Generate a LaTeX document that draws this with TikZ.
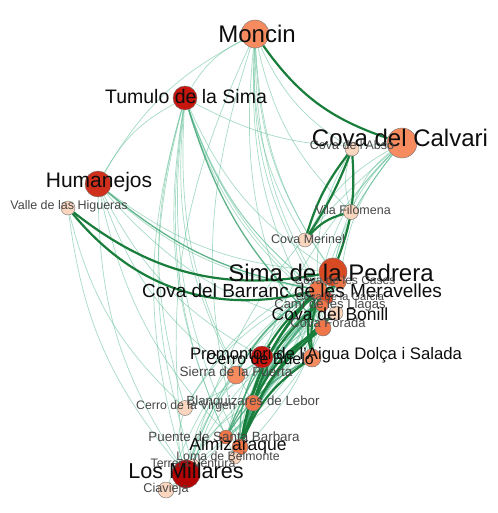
\documentclass[tikz,border=0pt]{standalone}
\usepackage{fontspec}
\setmainfont{Liberation Sans}
\usetikzlibrary{positioning}
\pgfdeclarelayer{paper}
\pgfdeclarelayer{edges}
\pgfsetlayers{paper,edges,main}
\definecolor{peach}{RGB}{250,214,190}
\definecolor{sorange}{RGB}{245,139,94}
\definecolor{dorange}{RGB}{238,118,72}
\definecolor{sred}{RGB}{200,22,14}
\definecolor{hred}{RGB}{208,47,27}
\definecolor{mred}{RGB}{180,3,3}
\definecolor{pred}{RGB}{216,74,36}
\definecolor{edgelight}{RGB}{95,190,150}
\definecolor{edgemid}{RGB}{55,160,110}
\definecolor{edgedark}{RGB}{25,125,60}
\tikzset{
  site/.style={circle, draw=black!55, line width=.4pt, inner sep=0pt},
  lab/.style={font=\fontsize{#1}{#1}\selectfont, inner sep=0pt, text=black!95},
  sublab/.style={font=\fontsize{#1}{#1}\selectfont, inner sep=0pt, text=black!72},
  ln/.style={draw=edgelight, line width=.7pt, opacity=.55},
  md/.style={draw=edgemid, line width=1.3pt, opacity=.8},
  lk/.style={draw=edgedark, line width=2.2pt},
}
\begin{document}
\begin{tikzpicture}[x=1pt,y=-1pt]
  \begin{pgfonlayer}{paper}
    \fill[white] (0,0) rectangle (497,513);
  \end{pgfonlayer}
  \useasboundingbox (0,0) rectangle (497,513);
  % sites
  \node[site, fill=sorange, minimum size=28] (mon) at (255,34) {};
  \node[site, fill=sred, minimum size=24] (tum) at (185,98) {};
  \node[site, fill=sorange, minimum size=30] (cal) at (402,143) {};
  \node[site, fill=peach, minimum size=14] (abs) at (352,149) {};
  \node[site, fill=peach, minimum size=15] (fil) at (351,212) {};
  \node[site, fill=peach, minimum size=14] (mer) at (305,240) {};
  \node[site, fill=hred, minimum size=26] (hum) at (98,184) {};
  \node[site, fill=peach, minimum size=14] (hig) at (68,208) {};
  \node[site, fill=dorange, minimum size=18] (bar) at (318,290) {};
  \node[site, fill=pred, minimum size=28] (ped) at (333,272) {};
  \node[site, fill=dorange, minimum size=12] (cas) at (340,283) {};
  \node[site, fill=pred, minimum size=12] (gar) at (327,298) {};
  \node[site, fill=dorange, minimum size=12] (lla) at (322,306) {};
  \node[site, fill=peach, minimum size=14] (bon) at (336,313) {};
  \node[site, fill=dorange, minimum size=16] (for) at (323,328) {};
  \node[site, fill=sorange, minimum size=18] (pro) at (312,358) {};
  \node[site, fill=sred, minimum size=22] (cbu) at (262,357) {};
  \node[site, fill=sorange, minimum size=18] (sie) at (236,375) {};
  \node[site, fill=peach, minimum size=15] (vir) at (185,408) {};
  \node[site, fill=dorange, minimum size=16] (bla) at (253,403) {};
  \node[site, fill=dorange, minimum size=14] (pue) at (226,437) {};
  \node[site, fill=dorange, minimum size=16] (alm) at (240,447) {};
  \node[site, fill=peach, minimum size=12] (lom) at (235,458) {};
  \node[site, fill=peach, minimum size=12] (ter) at (193,465) {};
  \node[site, fill=mred, minimum size=28] (mil) at (186,474) {};
  \node[site, fill=peach, minimum size=16] (cia) at (166,490) {};
  % labels
  \node[lab=24] (monL) at (257,34) {Moncin};
  \node[lab=19.5] (tumL) at (186,97) {Tumulo de la Sima};
  \node[lab=24] (calL) at (400,138) {Cova del Calvari};
  \node[sublab=12.5] (absL) at (352,145) {Cova de l'Abso};
  \node[sublab=12.5] (filL) at (353,210) {Vila Filomena};
  \node[sublab=12.5] (merL) at (308,239) {Cova Merinel};
  \node[lab=21] (humL) at (99,182) {Humanejos};
  \node[sublab=12.5] (higL) at (69,206) {Valle de las Higueras};
  \node[lab=24] (pedL) at (331,273) {Sima de la Pedrera};
  \node[sublab=12] (casL) at (345,280) {Cova de les Cases};
  \node[lab=19] (barL) at (292,291) {Cova del Barranc de les Meravelles};
  \node[sublab=11] (garL) at (340,297) {Cova de la Garcia};
  \node[sublab=13] (llaL) at (330,305) {Camí de les Llagas};
  \node[lab=17.5] (bonL) at (330,314) {Cova del Bonill};
  \node[sublab=13] (forL) at (328,323) {Cova Forada};
  \node[lab=16.7] (proL) at (326,355) {Promontori de l'Aigua Dolça i Salada};
  \node[lab=16] (cbuL) at (260,359) {Cerro de Buelo};
  \node[sublab=13.5] (sieL) at (236,372) {Sierra de la Puerta};
  \node[sublab=12.3] (virL) at (186,406) {Cerro de la Virgen};
  \node[sublab=13.3] (blaL) at (253,402) {Blanquizares de Lebor};
  \node[sublab=13.4] (pueL) at (224,437) {Puente de Santa Barbara};
  \node[lab=17.5] (almL) at (238,446) {Almizaraque};
  \node[sublab=12.3] (lomL) at (228,456) {Loma de Belmonte};
  \node[sublab=12.3] (terL) at (193,463) {Terrera Ventura};
  \node[lab=21.6] (milL) at (186,471) {Los Millares};
  \node[sublab=12.7] (ciaL) at (166,489) {Ciavieja};
  % links
  \begin{pgfonlayer}{edges}
    \foreach \a/\b in {mon/tum, mon/hum, mon/ped, mon/bar, mon/cas, mon/alm, mon/mil,
        mon/pro, mon/abs, mon/fil, mon/mer, mon/bon, mon/for, tum/ped, tum/bar, tum/gar,
        tum/lla, tum/mil, tum/alm, tum/bla, tum/sie, tum/vir, tum/pue, tum/cal, tum/bon,
        tum/ter, tum/lom, hum/ped, hum/bar, hum/mil, hum/alm, tum/hum, hum/sie, hum/cbu,
        hum/for, hig/mil, hig/vir, cal/ped, cal/bar, cal/mer, cal/pro, cal/alm, cal/for,
        cal/mil, cal/fil, cal/cas, abs/bar, abs/fil, ped/vir, bar/vir, vir/mil, ped/pue,
        bar/lom, ped/ter, cia/mil, ped/cia, ped/mil, bar/mil, pro/mil, bon/mil, cbu/mil,
        sie/mil, bla/mil, cbu/ped, cbu/bar, sie/bar, sie/ped, bla/ped, bla/bar, pue/bar,
        pue/for, lom/ped, cas/alm, gar/alm, lla/alm, ter/bar, cia/bar, vir/cas, pue/gar}
      \draw[ln] (\a) to[bend right=16] (\b);
    \foreach \a/\b in {cas/pue, gar/lom, lla/alm, for/pue, bon/lom, ped/bla,
        bar/sie, pro/pue, cbu/alm, hum/bar, tum/for}
      \draw[md] (\a) to[bend right=14] (\b);
    \foreach \a/\b in {fil/mer, ped/alm, bar/alm, bon/alm,
        for/alm, ped/pro, bar/pro, for/bla, gar/bla, pro/alm, cas/cbu}
      \draw[lk] (\a) to[bend right=16] (\b);
    \draw[lk] (mon) to[bend right=18] (cal);
    \draw[lk] (hig) to[bend right=32] (bar);
    \draw[lk] (hig) to[bend right=24] (ped);
    \draw[lk] (abs) to[bend right=10] (mer);
    \draw[lk] (abs) to[bend left=6] (mer);
    \draw[lk] (abs) to[bend left=12] (ped);
  \end{pgfonlayer}
\end{tikzpicture}
\end{document}
